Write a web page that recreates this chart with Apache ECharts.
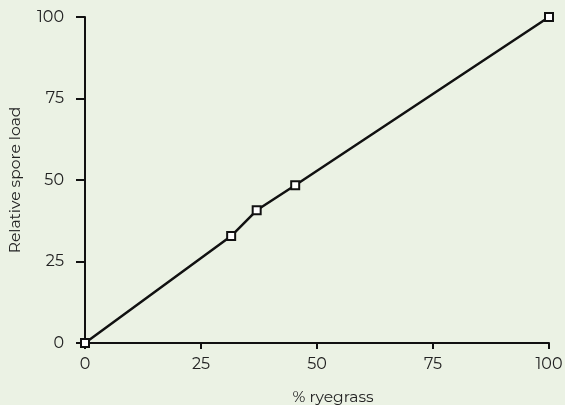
<!DOCTYPE html>
<html><head><meta charset="utf-8">
<script src="https://cdn.jsdelivr.net/npm/echarts@6/dist/echarts.min.js"></script>
<style>html,body{margin:0;padding:0;background:#ebf2e4;}#c{width:565px;height:405px;}</style>
</head><body><div id="c"></div>
<script>
const ryegrass = [0, 31.5, 37, 45.3, 100];
const sporeLoad = [0, 32.8, 40.7, 48.4, 100];
const xTicks = [0, 25, 50, 75, 100];
const yTicks = [0, 25, 50, 75, 100];
const xName = '% ryegrass';
const yName = 'Relative spore load';

const font = 'Montserrat, "Noto Sans", sans-serif';
const chart = echarts.init(document.getElementById('c'), null, {renderer: 'canvas'});
chart.setOption({
  backgroundColor: '#ebf2e4',
  animation: false,
  grid: {left: 85, right: 16, top: 17, bottom: 62, containLabel: false, outerBoundsMode: 'none'},
  xAxis: {
    type: 'value', min: xTicks[0], max: xTicks[xTicks.length-1], interval: 25,
    name: xName, nameLocation: 'middle', nameGap: 46,
    nameTextStyle: {color: '#222', fontSize: 15.5, fontFamily: font, padding: [0,0,0,32]},
    axisLine: {show: true, lineStyle: {color: '#111', width: 2}},
    axisTick: {show: true, length: 6, lineStyle: {color: '#111', width: 2}},
    axisLabel: {color: '#222', fontSize: 16, fontFamily: font, margin: 13},
    splitLine: {show: false}
  },
  yAxis: {
    type: 'value', min: yTicks[0], max: yTicks[yTicks.length-1], interval: 25,
    name: yName, nameLocation: 'middle', nameGap: 62, nameRotate: 90,
    nameTextStyle: {color: '#222', fontSize: 15.5, fontFamily: font},
    axisLine: {show: true, lineStyle: {color: '#111', width: 2}},
    axisTick: {show: true, length: 9, lineStyle: {color: '#111', width: 2}},
    axisLabel: {color: '#222', fontSize: 16, fontFamily: font, margin: 21},
    splitLine: {show: false}
  },
  series: [{
    type: 'line',
    data: ryegrass.map((x, i) => [x, sporeLoad[i]]),
    lineStyle: {color: '#111', width: 2.5},
    symbol: 'rect', symbolSize: 8,
    itemStyle: {color: '#fff', borderColor: '#111', borderWidth: 2},
    z: 5
  }]
});
</script></body></html>
